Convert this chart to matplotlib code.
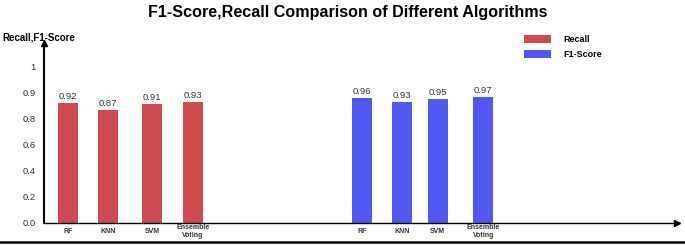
import matplotlib.pyplot as plt
from matplotlib.lines import Line2D

plt.rcParams['font.family'] = ['Liberation Sans', 'DejaVu Sans']

# data
algorithms = ['RF', 'KNN', 'SVM', 'Ensemble\nVoting']
recall = [0.92, 0.87, 0.91, 0.93]
f1_score = [0.96, 0.93, 0.95, 0.97]
# the original axis labels are equally spaced but read 0.8 -> 0.9 -> 1
ytick_vals = [0.0, 0.2, 0.4, 0.6, 0.8, 1.0, 1.2]
ytick_labels = ['0.0', '0.2', '0.4', '0.6', '0.8', '0.9', '1']

# layout (pixel-like x positions inside the axes)
recall_x = [23.7, 64, 108, 148.7]
f1_x = [317.7, 357.7, 393.7, 439.3]
bar_w = 20
red = '#cf4b50'
blue = '#5158f2'

W, H = 685, 245
fig = plt.figure(figsize=(W / 100, H / 100), dpi=100)
ax = fig.add_axes([44 / W, (H - 222.7) / H, (677 - 44) / W, (222.7 - 43) / H])

ax.bar(recall_x, recall, width=bar_w, color=red, label='Recall')
ax.bar(f1_x, f1_score, width=bar_w, color=blue, label='F1-Score')

for xs, vals in [(recall_x, recall), (f1_x, f1_score)]:
    for x, v in zip(xs, vals):
        ax.text(x, v + 0.015, '%.2f' % v, ha='center', va='bottom', fontsize=6.8, color='#333333')

ax.set_xlim(0, 633)
ax.set_ylim(0, 1.382)
ax.set_yticks(ytick_vals)
ax.set_yticklabels(ytick_labels, fontsize=6.8, color='#333333')
ax.set_xticks(recall_x + f1_x)
ax.set_xticklabels(algorithms + algorithms, fontsize=5, fontweight='bold', color='#333333')
for lbl in ax.get_xticklabels():
    lbl.set_verticalalignment('center')
ax.tick_params(axis='y', length=0, pad=6)
ax.tick_params(axis='x', length=0, pad=6.5)

for s in ['top', 'right']:
    ax.spines[s].set_visible(False)
ax.spines['left'].set_linewidth(1.5)
ax.spines['bottom'].set_linewidth(1.0)
# axis arrows
ax.plot(0, 1, marker='^', color='black', markersize=5, transform=ax.transAxes, clip_on=False)
ax.plot(1, 0, marker='>', color='black', markersize=5, transform=ax.transAxes, clip_on=False)

fig.text(348 / W, 1 - 12.5 / H, 'F1-Score,Recall Comparison of Different Algorithms',
         ha='center', va='center', fontsize=11.6, fontweight='bold')
fig.text(2 / W, 1 - 37.5 / H, 'Recall,F1-Score', ha='left', va='center', fontsize=7, fontweight='bold')

ax.legend(loc='upper left', bbox_to_anchor=(516 / W, 1 - 27 / H), bbox_transform=fig.transFigure,
          frameon=False, handlelength=3.0, handleheight=1.0, labelspacing=0.6,
          handletextpad=1.4, prop={'weight': 'bold', 'size': 6.5})

fig.add_artist(Line2D([0, 1], [1 - 242 / H, 1 - 242 / H], transform=fig.transFigure, color='black', linewidth=1.8))

fig.savefig('out.png', dpi=100)
